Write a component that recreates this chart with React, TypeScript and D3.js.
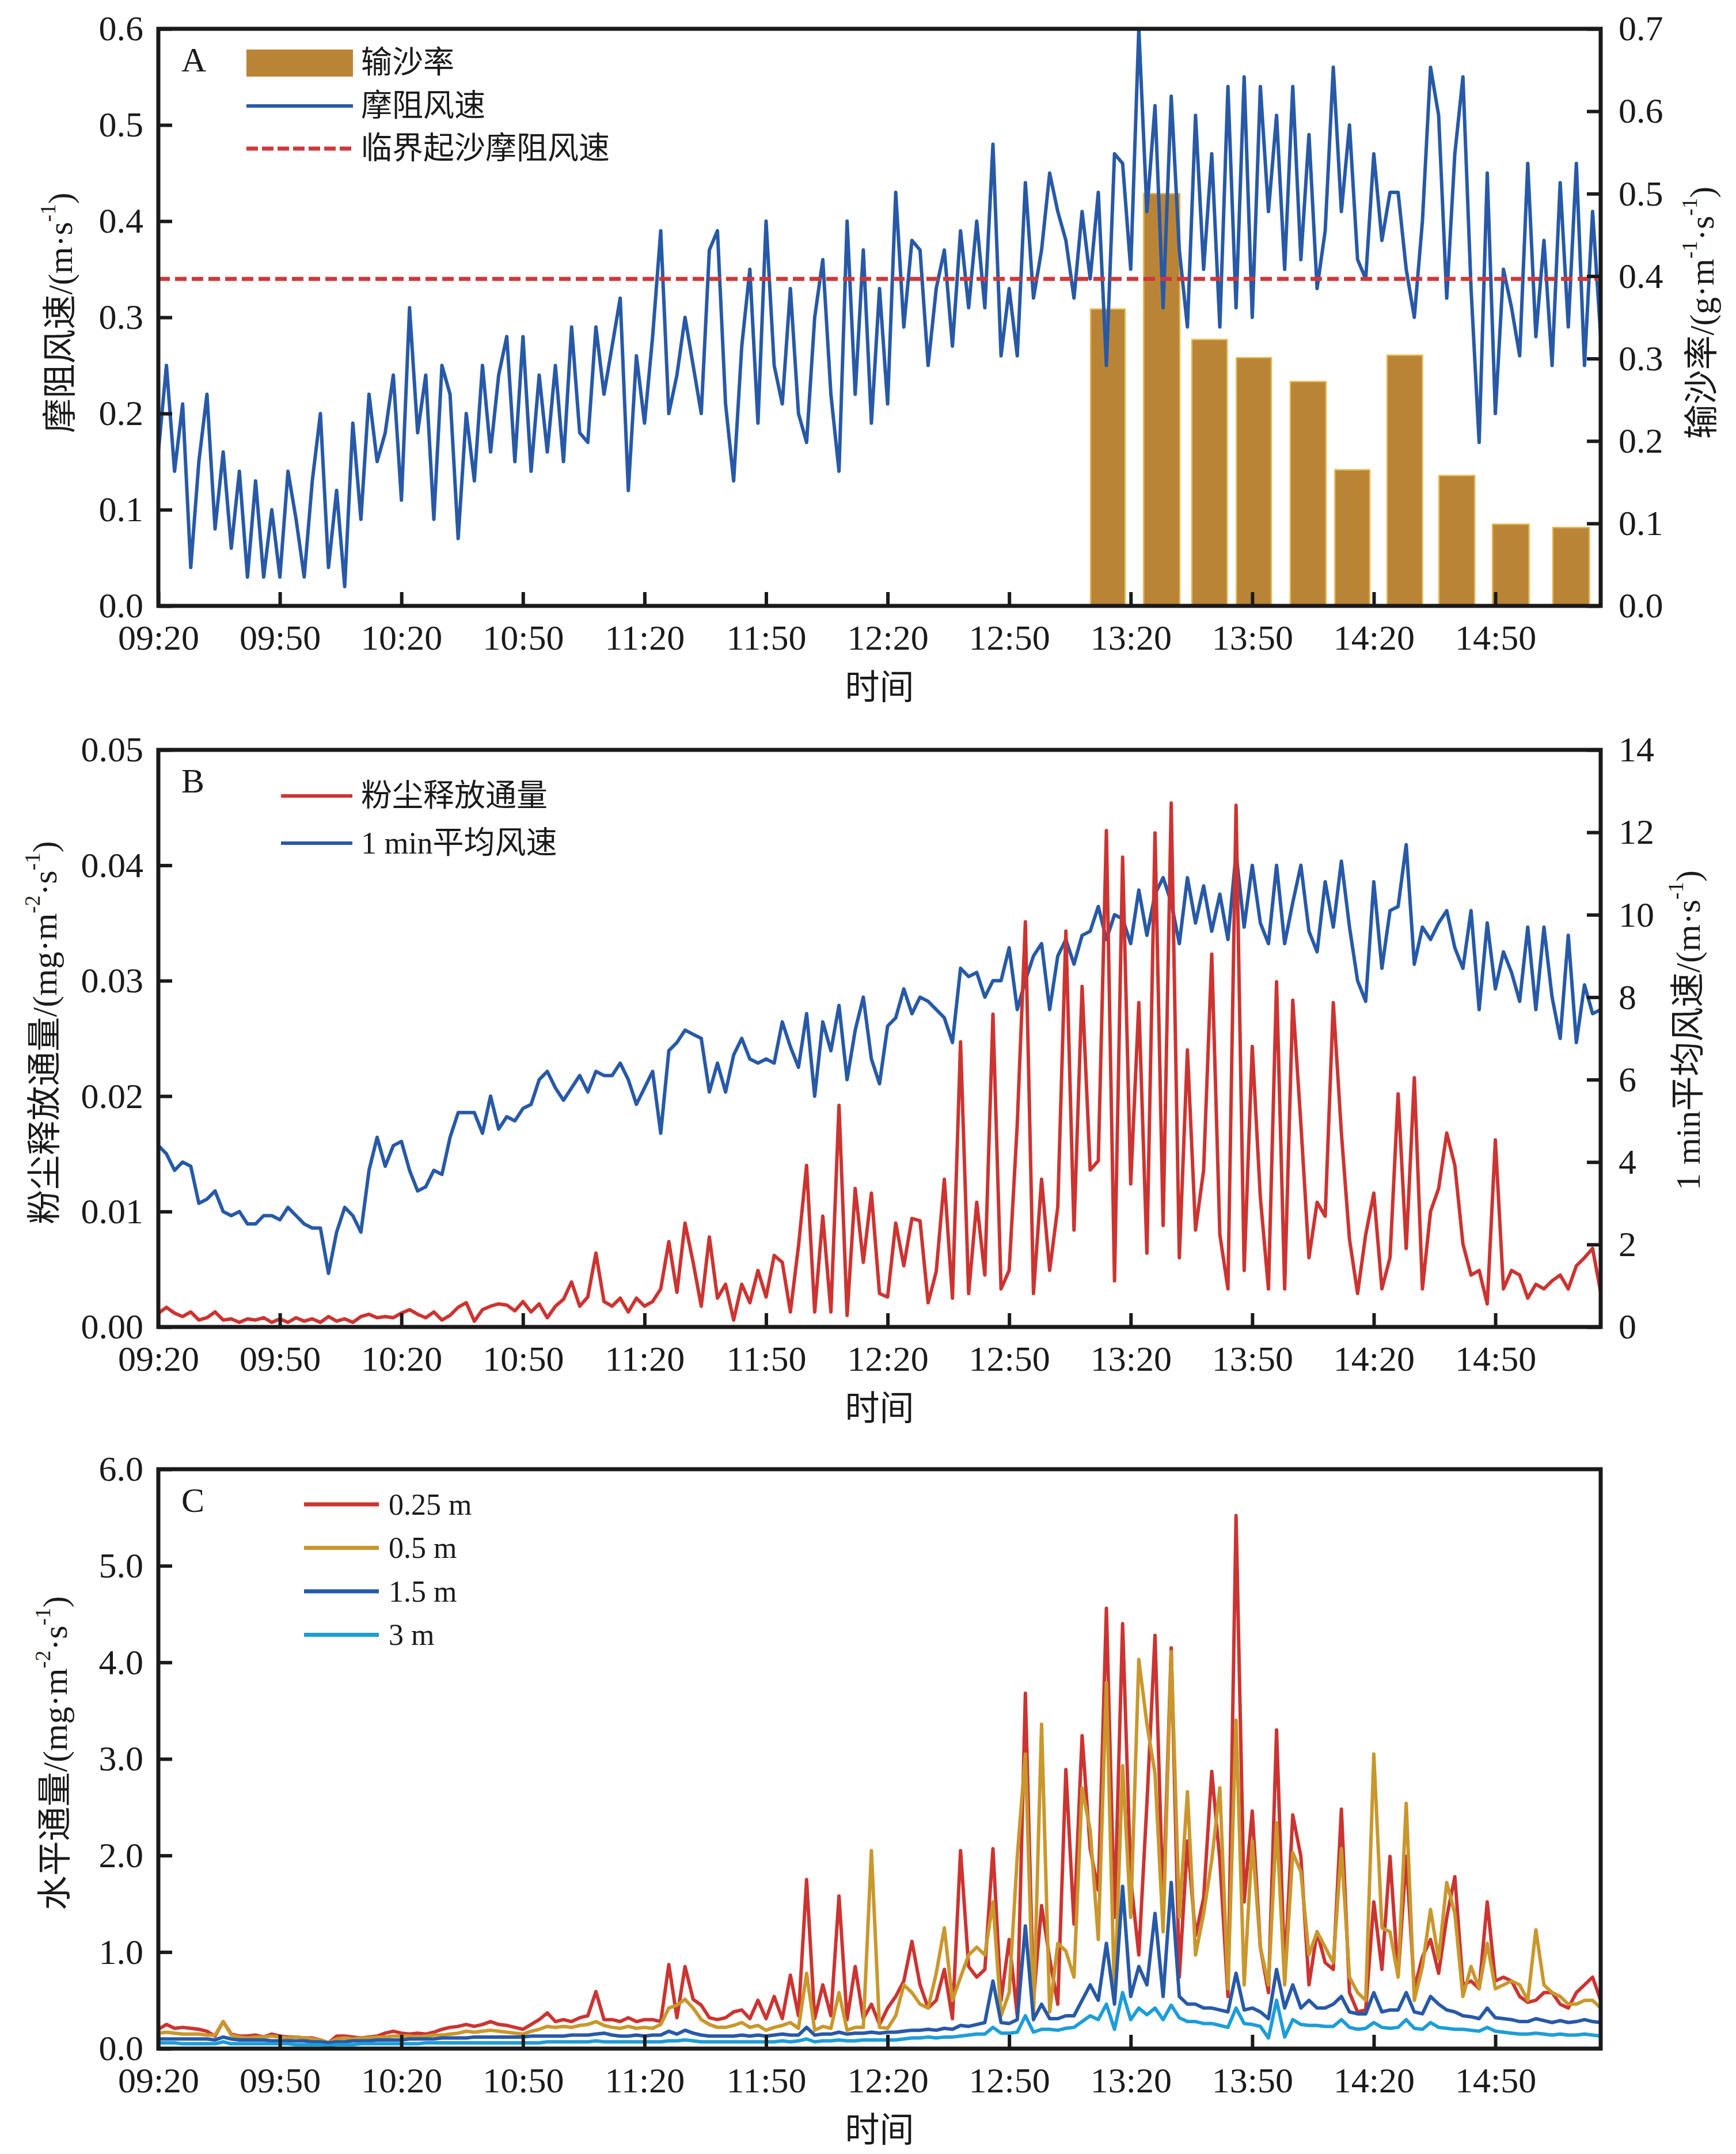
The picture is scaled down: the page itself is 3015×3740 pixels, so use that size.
import { useEffect, useRef } from "react";
import * as d3 from "d3";

// Series every 2 min, starting at 09:20.
const START = "09:20";
const END = "15:16";
const STEP = 2;
const timeTicks = ["09:20", "09:50", "10:20", "10:50", "11:20", "11:50", "12:20", "12:50", "13:20", "13:50", "14:20", "14:50"];

// Panel A
const frictionVelocity = [
  .16, .25, .14, .21, .04, .15, .22, .08, .16, .06,
  .14, .03, .13, .03, .10, .03, .14, .09, .03, .13,
  .20, .04, .12, .02, .19, .09, .22, .15, .18, .24,
  .11, .31, .18, .24, .09, .25, .22, .07, .20, .13,
  .25, .16, .24, .28, .15, .28, .14, .24, .16, .25,
  .15, .29, .18, .17, .29, .22, .27, .32, .12, .26,
  .19, .28, .39, .20, .24, .30, .25, .20, .37, .39,
  .21, .13, .27, .35, .19, .40, .25, .21, .33, .20,
  .17, .30, .36, .22, .14, .40, .22, .37, .19, .33,
  .21, .43, .29, .38, .37, .25, .33, .37, .27, .39,
  .31, .40, .31, .48, .26, .33, .26, .44, .32, .37,
  .45, .41, .38, .32, .41, .34, .43, .25, .47, .46,
  .35, .60, .41, .52, .31, .53, .37, .29, .51, .35,
  .47, .29, .54, .31, .55, .30, .54, .41, .51, .35,
  .54, .36, .49, .33, .39, .56, .41, .50, .36, .34,
  .47, .38, .43, .43, .35, .30, .40, .56, .51, .32,
  .47, .55, .33, .17, .45, .20, .35, .31, .26, .46,
  .28, .38, .25, .44, .29, .46, .25, .41, .28,
];
const criticalVelocity = 0.34;
const transportStart = ["13:10:06", "13:23:12", "13:35:06", "13:46:06", "13:59:24", "14:10:24", "14:23:18", "14:36:06", "14:49:18", "15:04:12"];
const transportEnd = ["13:18:36", "13:32:06", "13:43:48", "13:54:42", "14:08:12", "14:19:00", "14:32:00", "14:44:54", "14:58:18", "15:13:12"];
const transportRate = [0.36, 0.50, 0.323, 0.301, 0.272, 0.165, 0.304, 0.158, 0.099, 0.095];

// Panel B
const dustFlux = [
  .0012, .0017, .0012, .0009, .0013, .0006, .0008, .0013, .0006, .0007,
  .0004, .0007, .0006, .0008, .0004, .0007, .0004, .0008, .0005, .0007,
  .0004, .0009, .0005, .0007, .0004, .0009, .0011, .0008, .0009, .0008,
  .0012, .0015, .0011, .0008, .0013, .0006, .0010, .0017, .0021, .0005,
  .0015, .0018, .0020, .0019, .0014, .0022, .0013, .0020, .0008, .0018,
  .0024, .0039, .0018, .0026, .0064, .0022, .0018, .0025, .0013, .0025,
  .0018, .0022, .0033, .0074, .0030, .0090, .0056, .0018, .0078, .0025,
  .0037, .0006, .0037, .0021, .0049, .0026, .0062, .0056, .0013, .0070,
  .0140, .0013, .0096, .0013, .0192, .0010, .0120, .0056, .0116, .0029,
  .0026, .0090, .0053, .0094, .0092, .0021, .0048, .0128, .0025, .0247,
  .0029, .0108, .0045, .0271, .0033, .0049, .0176, .0351, .0029, .0128,
  .0049, .0104, .0343, .0084, .0295, .0136, .0144, .0430, .0040, .0407,
  .0124, .0281, .0064, .0428, .0088, .0454, .0060, .0240, .0084, .0136,
  .0323, .0080, .0033, .0452, .0049, .0243, .0112, .0033, .0299, .0033,
  .0283, .0176, .0060, .0108, .0096, .0281, .0168, .0076, .0029, .0080,
  .0116, .0033, .0060, .0202, .0068, .0216, .0033, .0100, .0120, .0168,
  .0140, .0072, .0045, .0049, .0020, .0162, .0033, .0049, .0045, .0025,
  .0037, .0033, .0040, .0045, .0033, .0053, .0060, .0068, .0030,
];
const windSpeed = [
  4.4, 4.2, 3.8, 4.0, 3.9, 3.0, 3.1, 3.3, 2.8, 2.7,
  2.8, 2.5, 2.5, 2.7, 2.7, 2.6, 2.9, 2.7, 2.5, 2.4,
  2.4, 1.3, 2.3, 2.9, 2.7, 2.3, 3.8, 4.6, 3.9, 4.4,
  4.5, 3.8, 3.3, 3.4, 3.8, 3.7, 4.6, 5.2, 5.2, 5.2,
  4.7, 5.6, 4.8, 5.1, 5.0, 5.3, 5.4, 6.0, 6.2, 5.8,
  5.5, 5.8, 6.1, 5.7, 6.2, 6.1, 6.1, 6.4, 6.0, 5.4,
  5.8, 6.2, 4.7, 6.7, 6.9, 7.2, 7.1, 7.0, 5.7, 6.4,
  5.7, 6.6, 7.0, 6.5, 6.4, 6.5, 6.4, 7.4, 6.8, 6.3,
  7.6, 5.6, 7.4, 6.7, 7.8, 6.0, 7.2, 8.0, 6.5, 5.9,
  7.3, 7.5, 8.2, 7.6, 8.0, 7.9, 7.7, 7.5, 6.9, 8.7,
  8.5, 8.6, 8.0, 8.4, 8.4, 9.2, 7.7, 8.4, 9.0, 9.3,
  7.7, 9.0, 9.4, 8.8, 9.5, 9.6, 10.2, 9.4, 10.0, 9.9,
  9.3, 10.6, 9.5, 10.5, 10.9, 10.3, 9.3, 10.9, 9.8, 10.7,
  9.6, 10.5, 9.4, 11.5, 9.7, 11.2, 9.8, 9.3, 11.2, 9.3,
  10.3, 11.2, 9.6, 9.1, 10.8, 9.7, 11.3, 9.7, 8.4, 7.9,
  10.8, 8.7, 10.1, 10.2, 11.7, 8.8, 9.7, 9.4, 9.8, 10.1,
  9.2, 8.7, 10.1, 7.7, 9.8, 8.2, 9.1, 8.6, 7.9, 9.7,
  7.7, 9.7, 8.0, 7.0, 9.5, 6.9, 8.3, 7.6, 7.7,
];

// Panel C: horizontal flux at four heights
const flux025 = [
  .20, .25, .21, .22, .21, .20, .18, .13, .28, .15,
  .13, .13, .14, .12, .15, .13, .12, .12, .11, .11,
  .09, .06, .13, .13, .12, .11, .12, .13, .16, .18,
  .16, .15, .16, .15, .17, .20, .22, .23, .25, .23,
  .25, .28, .25, .24, .22, .20, .25, .30, .37, .28,
  .30, .28, .32, .34, .59, .30, .30, .28, .32, .28,
  .30, .30, .28, .87, .32, .85, .51, .45, .32, .30,
  .32, .38, .40, .31, .50, .31, .54, .31, .76, .34,
  1.75, .31, .66, .34, 1.58, .30, .85, .31, .46, .25,
  .42, .54, .70, 1.11, .66, .42, .50, .82, .31, 2.05,
  .85, .74, .82, 2.07, .50, 1.13, .34, 3.68, .50, 1.48,
  .93, .46, 2.89, 1.29, 3.24, 2.07, 1.64, 4.56, 1.36, 4.40,
  1.76, .97, 2.54, 4.28, 1.48, 4.15, .74, 2.15, 1.17, 1.56,
  2.87, 1.95, .54, 5.52, 1.52, 2.46, 1.05, .58, 3.30, .78,
  2.42, 1.99, .66, 1.21, .89, .82, 2.48, .58, .38, .40,
  1.52, .82, 1.99, .75, 1.99, .62, .95, 1.13, .78, 1.36,
  1.78, .66, .70, .62, 1.52, .70, .74, .70, .54, .48,
  .50, .58, .58, .46, .42, .58, .66, .74, .50,
];
const flux05 = [
  .16, .17, .16, .15, .15, .15, .14, .14, .28, .14,
  .12, .11, .12, .12, .13, .12, .11, .12, .11, .10,
  .09, .06, .10, .11, .10, .11, .11, .12, .12, .13,
  .13, .13, .12, .13, .14, .14, .15, .16, .18, .17,
  .18, .19, .18, .17, .16, .15, .18, .20, .23, .22,
  .23, .22, .24, .25, .28, .24, .22, .21, .23, .21,
  .22, .21, .25, .42, .45, .51, .42, .30, .25, .22,
  .22, .24, .27, .22, .24, .19, .22, .24, .27, .21,
  .78, .19, .23, .21, .58, .19, .22, .22, 2.05, .22,
  .21, .34, .66, .58, .46, .42, .78, 1.25, .50, .74,
  .97, 1.05, .97, 1.52, .34, .58, 1.99, 3.05, .31, 3.36,
  .38, 1.09, 1.01, .74, 2.70, 2.26, 1.13, 3.79, .50, 2.93,
  1.36, 4.03, 3.36, 2.85, 1.21, 4.11, 1.36, 2.66, .97, 1.40,
  1.95, 2.70, .62, 3.40, .66, 2.15, 1.05, .66, 2.34, .66,
  2.03, 1.83, .97, 1.21, 1.05, .89, 2.07, .74, .58, .50,
  3.05, 1.25, 1.21, .74, 2.54, .50, .85, 1.44, .93, 1.72,
  1.40, .54, .85, .62, 1.09, .62, .66, .70, .66, .50,
  1.23, .66, .58, .54, .46, .46, .50, .50, .42,
];
const flux15 = [
  .10, .10, .10, .10, .10, .10, .10, .09, .12, .10,
  .09, .09, .09, .09, .08, .08, .08, .08, .08, .07,
  .07, .06, .07, .07, .08, .08, .08, .09, .09, .09,
  .09, .10, .10, .10, .10, .11, .11, .11, .11, .12,
  .12, .12, .12, .12, .12, .12, .13, .13, .13, .13,
  .13, .14, .14, .14, .15, .16, .14, .13, .13, .14,
  .13, .14, .14, .18, .15, .19, .16, .14, .13, .13,
  .13, .13, .14, .13, .14, .13, .14, .15, .14, .14,
  .22, .14, .15, .15, .17, .15, .16, .16, .17, .16,
  .17, .17, .18, .19, .19, .20, .19, .21, .20, .24,
  .23, .25, .27, .70, .27, .26, .30, 1.27, .30, .46,
  .31, .31, .34, .34, .50, .66, .50, 1.09, .46, 1.68,
  .54, .85, .66, 1.40, .54, 1.72, .54, .46, .46, .42,
  .42, .40, .38, .78, .40, .42, .38, .31, .82, .42,
  .66, .42, .50, .42, .42, .46, .54, .38, .36, .36,
  .58, .38, .40, .40, .58, .38, .36, .54, .46, .40,
  .38, .34, .33, .31, .42, .32, .31, .30, .28, .28,
  .31, .29, .27, .29, .27, .28, .30, .28, .27,
];
const flux3 = [
  .06, .06, .06, .05, .05, .05, .05, .05, .07, .05,
  .05, .05, .05, .05, .05, .05, .05, .04, .04, .04,
  .04, .03, .04, .04, .04, .05, .05, .05, .05, .05,
  .05, .05, .05, .06, .06, .06, .06, .06, .06, .06,
  .06, .06, .06, .06, .06, .06, .06, .06, .07, .07,
  .07, .07, .07, .07, .08, .07, .07, .07, .07, .07,
  .07, .07, .07, .08, .08, .09, .08, .07, .07, .07,
  .07, .07, .07, .07, .07, .07, .07, .08, .07, .08,
  .10, .07, .08, .08, .09, .08, .08, .09, .09, .09,
  .09, .09, .10, .11, .11, .12, .11, .12, .12, .13,
  .14, .15, .15, .22, .16, .16, .17, .34, .17, .20,
  .20, .19, .21, .22, .28, .34, .30, .46, .20, .58,
  .30, .42, .35, .42, .30, .45, .32, .28, .28, .26,
  .26, .24, .22, .42, .26, .25, .23, .11, .50, .12,
  .30, .25, .24, .24, .23, .23, .30, .22, .20, .21,
  .27, .22, .21, .22, .30, .21, .20, .27, .22, .21,
  .20, .20, .19, .18, .22, .18, .17, .16, .15, .15,
  .16, .15, .14, .15, .14, .14, .15, .14, .13,
];

const legendA = ["输沙率", "摩阻风速", "临界起沙摩阻风速"];
const legendB = ["粉尘释放通量", "1 min平均风速"];
const legendC = ["0.25 m", "0.5 m", "1.5 m", "3 m"];

const INK = "#1a1a1a";
const SERIF = "'Liberation Serif', 'Times New Roman', 'Noto Sans CJK SC', serif";
const BLUE = "#2759a7";
const RED = "#cc3431";
const DASH_RED = "#d0373a";
const GOLD = "#ba8437";
const GOLD_LINE = "#c9972c";
const SKY = "#1d9dd8";
const LINE_W = 6;

const toMinutes = (s: string) => {
  const [h, m, sec] = s.split(":").map(Number);
  const [h0, m0] = START.split(":").map(Number);
  return h * 60 + m + (sec || 0) / 60 - (h0 * 60 + m0);
};

type Sel = d3.Selection<SVGGElement, unknown, null, undefined>;

// text with superscripts: parts starting with "^" are raised
function richText(g: Sel, x: number, y: number, rotate: boolean, parts: string[], size: number) {
  const t = g
    .append("text")
    .attr("transform", `translate(${x},${y})${rotate ? " rotate(-90)" : ""}`)
    .attr("text-anchor", "middle")
    .attr("dominant-baseline", "central")
    .attr("font-family", SERIF)
    .attr("font-size", size)
    .attr("fill", INK);
  let raised = false;
  parts.forEach((p) => {
    if (p.startsWith("^")) {
      t.append("tspan").attr("dy", raised ? 0 : -size * 0.36).attr("font-size", size * 0.62).text(p.slice(1));
      raised = true;
    } else {
      t.append("tspan").attr("dy", raised ? size * 0.36 : 0).text(p);
      raised = false;
    }
  });
}

export default function App() {
  const svgRef = useRef<SVGSVGElement>(null);

  useEffect(() => {
    if (!svgRef.current) return;
    const svg = d3.select(svgRef.current);
    svg.selectAll("*").remove();
    const root = svg.append("g") as unknown as Sel;

    const left = 275;
    const right = 2780;
    const x = d3.scaleLinear().domain([0, toMinutes(END)]).range([left, right]);
    const tickMinutes = timeTicks.map(toMinutes);

    const styleAxis = (g: Sel) => {
      g.attr("font-family", SERIF).attr("font-size", 62);
      g.select(".domain").remove();
      g.selectAll(".tick line").attr("stroke", INK).attr("stroke-width", 6);
      g.selectAll(".tick text").attr("fill", INK);
    };

    const drawPanel = (top: number, bottom: number, letter: string) => {
      // bottom time axis, ticks pointing inward
      const ax = root.append("g").attr("transform", `translate(0,${bottom})`) as unknown as Sel;
      ax.call(
        d3
          .axisBottom(x)
          .tickValues(tickMinutes)
          .tickSize(-24)
          .tickPadding(32)
          .tickFormat((_, i) => timeTicks[i])
      );
      styleAxis(ax);
      richText(root, (left + right) / 2, bottom + 142, false, ["时间"], 60);
      root
        .append("text")
        .attr("x", 315)
        .attr("y", top + 74)
        .attr("font-family", SERIF)
        .attr("font-size", 60)
        .attr("fill", INK)
        .text(letter);
    };

    const frame = (top: number, bottom: number) => {
      root
        .append("rect")
        .attr("x", left)
        .attr("y", top)
        .attr("width", right - left)
        .attr("height", bottom - top)
        .attr("fill", "none")
        .attr("stroke", INK)
        .attr("stroke-width", 7);
    };

    const leftAxis = (y: d3.ScaleLinear<number, number>, ticks: number[], fmt: string) => {
      const g = root.append("g").attr("transform", `translate(${left},0)`) as unknown as Sel;
      g.call(d3.axisLeft(y).tickValues(ticks).tickSize(-24).tickPadding(26).tickFormat(d3.format(fmt)));
      styleAxis(g);
    };
    const rightAxis = (y: d3.ScaleLinear<number, number>, ticks: number[], fmt: string) => {
      const g = root.append("g").attr("transform", `translate(${right},0)`) as unknown as Sel;
      g.call(d3.axisRight(y).tickValues(ticks).tickSize(-24).tickPadding(31).tickFormat(d3.format(fmt)));
      styleAxis(g);
    };

    const series = (values: number[], y: d3.ScaleLinear<number, number>, color: string, width = LINE_W) => {
      const line = d3
        .line<number>()
        .x((_, i) => x(i * STEP))
        .y((v) => y(v));
      root
        .append("path")
        .datum(values)
        .attr("d", line)
        .attr("fill", "none")
        .attr("stroke", color)
        .attr("stroke-width", width)
        .attr("stroke-linejoin", "round");
    };

    const legendLine = (x0: number, x1: number, yy: number, color: string, dash?: string, w = LINE_W) => {
      root
        .append("line")
        .attr("x1", x0)
        .attr("x2", x1)
        .attr("y1", yy)
        .attr("y2", yy)
        .attr("stroke", color)
        .attr("stroke-width", w)
        .attr("stroke-dasharray", dash ?? null);
    };
    const legendText = (x0: number, yy: number, label: string, size: number) => {
      root
        .append("text")
        .attr("x", x0)
        .attr("y", yy)
        .attr("dominant-baseline", "central")
        .attr("font-family", SERIF)
        .attr("font-size", size)
        .attr("fill", INK)
        .text(label);
    };

    // ---------- Panel A ----------
    {
      const top = 50;
      const bottom = 1052;
      const yL = d3.scaleLinear().domain([0, 0.6]).range([bottom, top]);
      const yR = d3.scaleLinear().domain([0, 0.7]).range([bottom, top]);

      root
        .append("g")
        .selectAll("rect")
        .data(transportRate)
        .join("rect")
        .attr("x", (_, i) => x(toMinutes(transportStart[i])))
        .attr("width", (_, i) => x(toMinutes(transportEnd[i])) - x(toMinutes(transportStart[i])))
        .attr("y", (d) => yR(d))
        .attr("height", (d) => bottom - yR(d))
        .attr("fill", GOLD)
        .attr("stroke", "#e2b652")
        .attr("stroke-width", 2.5);

      series(frictionVelocity, yL, BLUE);
      root
        .append("line")
        .attr("x1", left)
        .attr("x2", right)
        .attr("y1", yL(criticalVelocity))
        .attr("y2", yL(criticalVelocity))
        .attr("stroke", DASH_RED)
        .attr("stroke-width", 7)
        .attr("stroke-dasharray", "20 9");

      frame(top, bottom);
      leftAxis(yL, d3.range(0, 0.61, 0.1), ".1f");
      rightAxis(yR, d3.range(0, 0.71, 0.1), ".1f");
      drawPanel(top, bottom, "A");
      richText(root, 105, (top + bottom) / 2 - 8, true, ["摩阻风速/(m·s", "^-1", ")"], 60);
      richText(root, 2956, (top + bottom) / 2 - 8, true, ["输沙率/(g·m", "^-1", "·s", "^-1", ")"], 60);

      root.append("rect").attr("x", 428).attr("y", 86).attr("width", 185).attr("height", 47).attr("fill", GOLD);
      legendLine(428, 613, 184, BLUE);
      legendLine(428, 613, 258, DASH_RED, "20 7", 7);
      legendA.forEach((t, i) => legendText(627, 109 + i * 74.5, t, 54));
    }

    // ---------- Panel B ----------
    {
      const top = 1302;
      const bottom = 2304;
      const yL = d3.scaleLinear().domain([0, 0.05]).range([bottom, top]);
      const yR = d3.scaleLinear().domain([0, 14]).range([bottom, top]);

      series(windSpeed, yR, BLUE);
      series(dustFlux, yL, RED);

      frame(top, bottom);
      leftAxis(yL, d3.range(0, 0.0501, 0.01), ".2f");
      rightAxis(yR, d3.range(0, 14.1, 2), "d");
      drawPanel(top, bottom, "B");
      richText(root, 78, (top + bottom) / 2 - 10, true, ["粉尘释放通量/(mg·m", "^-2", "·s", "^-1", ")"], 60);
      richText(root, 2932, (top + bottom) / 2 - 14, true, ["1 min平均风速/(m·s", "^-1", ")"], 60);

      legendLine(488, 612, 1382, RED);
      legendLine(488, 612, 1464, BLUE);
      legendB.forEach((t, i) => legendText(627, 1382 + i * 82, t, 54));
    }

    // ---------- Panel C ----------
    {
      const top = 2551;
      const bottom = 3557;
      const y = d3.scaleLinear().domain([0, 6]).range([bottom, top]);

      const colors = [RED, GOLD_LINE, BLUE, SKY];
      [flux025, flux05, flux15, flux3].forEach((s, i) => series(s, y, colors[i]));

      frame(top, bottom);
      leftAxis(y, d3.range(0, 6.01, 1), ".1f");
      drawPanel(top, bottom, "C");
      richText(root, 96, (top + bottom) / 2 - 10, true, ["水平通量/(mg·m", "^-2", "·s", "^-1", ")"], 60);

      legendC.forEach((t, i) => {
        legendLine(528, 658, 2612 + i * 75.5, colors[i], undefined, 7);
        legendText(675, 2612 + i * 75.5, t, 52);
      });
    }
  }, []);

  return (
    <div style={{ position: "absolute", left: 0, top: 0, background: "#fff" }}>
      <svg ref={svgRef} width={3015} height={3740} style={{ display: "block", background: "#fff" }} />
    </div>
  );
}
